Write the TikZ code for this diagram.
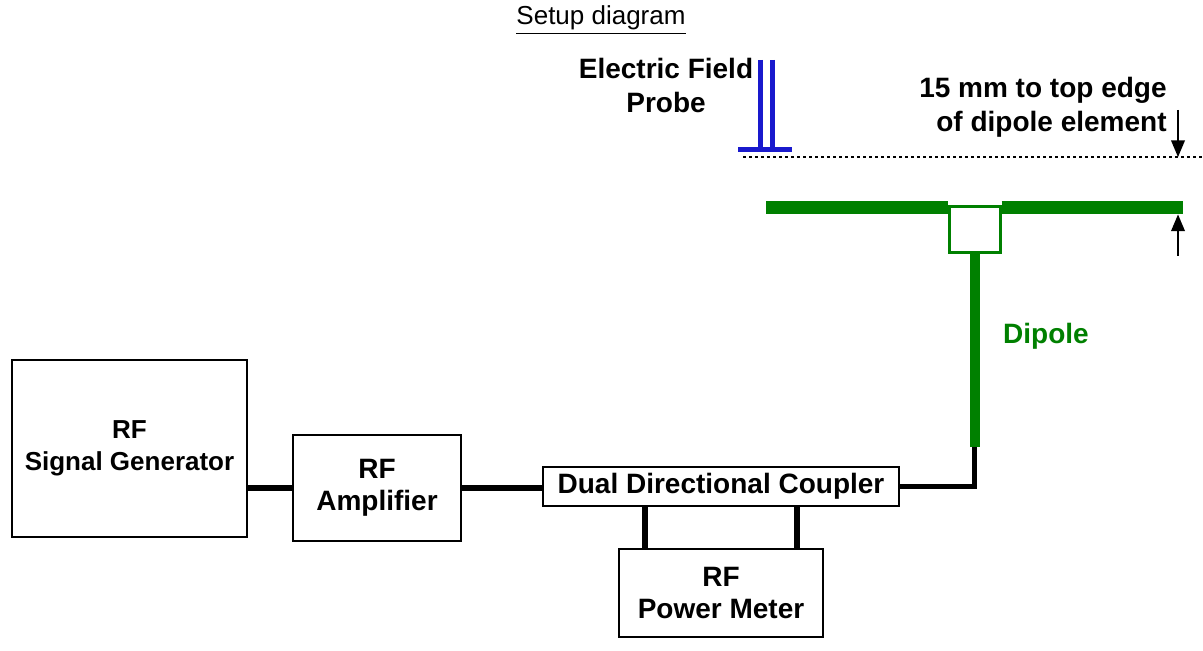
\documentclass[tikz,border=0pt]{standalone}
\usepackage{fontspec}
\setmainfont{Liberation Sans}
\usetikzlibrary{arrows,positioning}
\definecolor{dipgreen}{RGB}{0,128,0}
\definecolor{probeblue}{RGB}{25,25,205}

\begin{document}
\begin{tikzpicture}[x=0.5pt, y=-0.5pt,
  box/.style={draw, line width=1.1pt, align=center, inner sep=0pt,
    font=\fontsize{14}{16}\selectfont\bfseries},
  txt/.style={align=center, inner sep=0pt, font=\fontsize{14}{17}\selectfont\bfseries},
  link/.style={line width=2.6pt},
  arm/.style={dipgreen, line width=6.5pt},
  feed/.style={dipgreen, line width=5pt},
  probe/.style={probeblue, line width=2.5pt},
  gap/.style={line width=0.6pt, dash pattern=on 1.5pt off 1.5pt},
  dim/.style={line width=0.9pt, arrows={-triangle 45}}]
\useasboundingbox (0, 0) rectangle (1203, 651);

\node (title) at (601, 20) {\fontsize{13}{15}\selectfont\underline{Setup diagram}};

% instruments
\node [box, minimum width=117.5pt, minimum height=88.5pt,
  font=\fontsize{13}{16}\selectfont\bfseries] (sg) at (129.5, 448.5) {RF\\Signal Generator};
\node [box, minimum width=84pt, minimum height=53pt] (amp) at (377, 488) {RF\\Amplifier};
\node [box, minimum width=178pt, minimum height=19.5pt] (cp) at (721, 486.5) {Dual Directional Coupler};
\node [box, minimum width=102pt, minimum height=44pt] (pm) at (721, 593) {RF\\Power Meter};

\draw [link] (sg.east |- amp.west) -- (amp.west);
\draw [link] (amp.east) -- (cp.west |- amp.east);
\draw [link] ([xshift=-38pt]pm.north) -- ([xshift=-38pt]pm.north |- cp.south);
\draw [link] ([xshift=38pt]pm.north) -- ([xshift=38pt]pm.north |- cp.south);

% dipole
\coordinate (armL) at (766, 207.5);
\coordinate (armR) at (1183, 207.5);
\coordinate (feedend) at (974.5, 447);
\node [draw=dipgreen, line width=1.5pt, fill=white, inner sep=0pt,
  minimum width=25.5pt, minimum height=23pt] (bal) at (974.5, 230) {};
\draw [arm] (armL) -- (armL -| bal.west);
\draw [arm] (armR -| bal.east) -- (armR);
\draw [feed] (bal.south) -- (feedend);
\draw [link] (feedend) |- (cp.east);
\node [txt, text=dipgreen] (dlab) at (1046, 336) {Dipole};

% probe
\draw [probe] (760, 60) -- (760, 150);
\draw [probe] (772, 60) -- (772, 150);
\draw [probe] (738, 150) -- (792, 150);
\node [txt] (plab) at (666, 85) {Electric Field\\Probe};

% spacing
\coordinate (gapL) at (743, 157);
\coordinate (gapR) at (1203, 157);
\draw [gap] (gapL) -- (gapR);
\node [txt, align=right, anchor=east] (glab) at (1167, 107) {15 mm to top edge\\of dipole element};
\coordinate (top) at (1178, 110);
\coordinate (bot) at (1178, 256);
\draw [dim] (top) -- (top |- gapL);
\draw [dim] (bot) -- ([yshift=-3.5pt]bot |- armR);
\end{tikzpicture}
\end{document}
